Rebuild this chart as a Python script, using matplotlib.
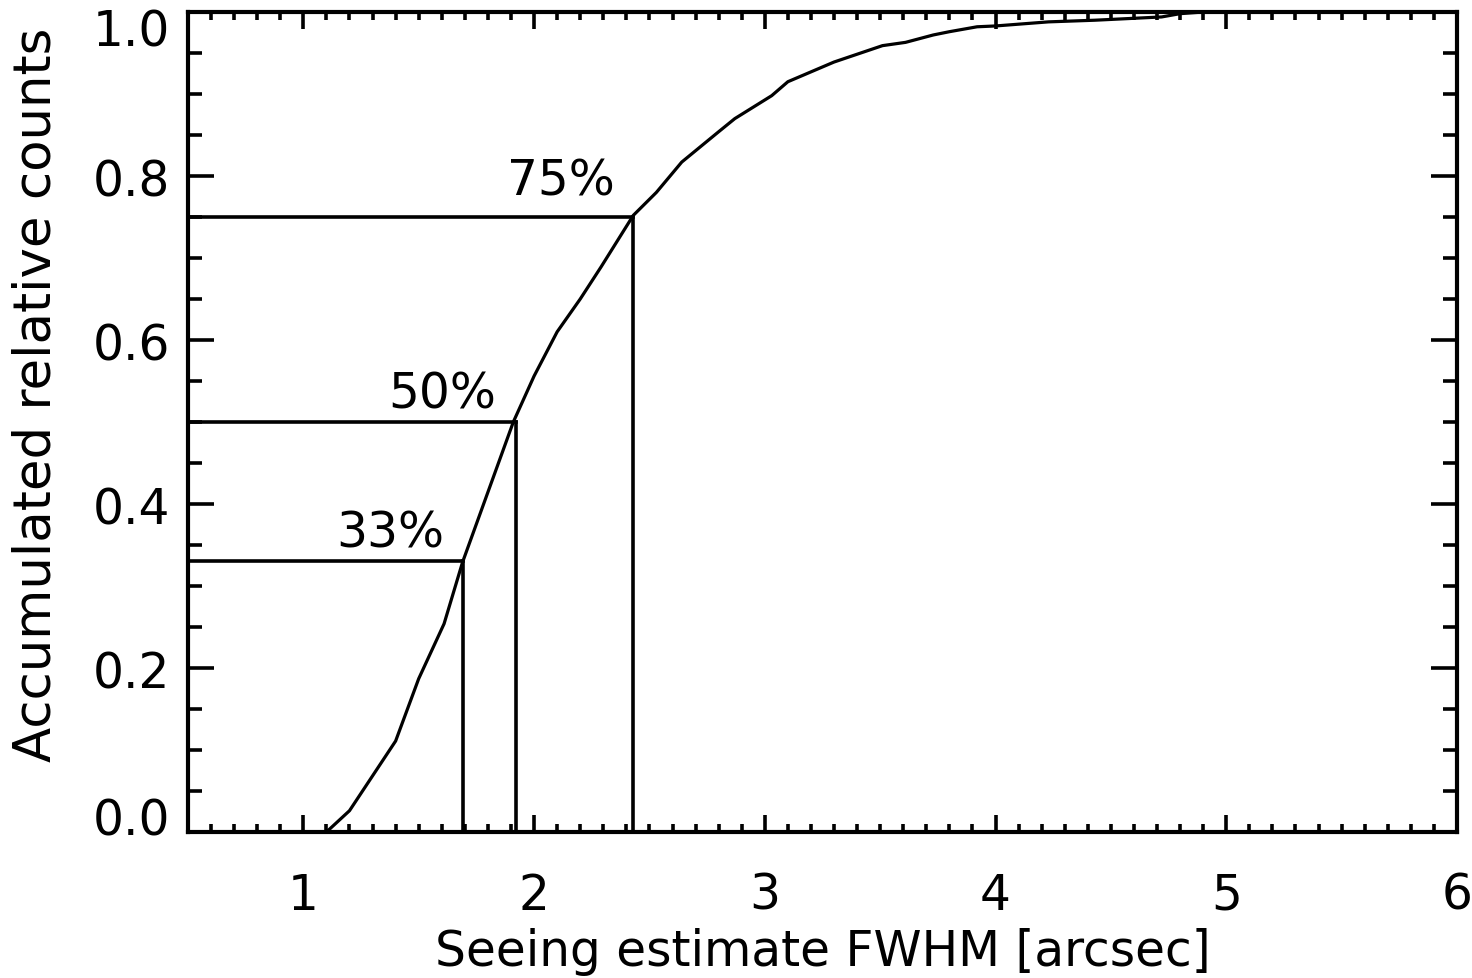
import matplotlib.pyplot as plt
from matplotlib.ticker import MultipleLocator, FormatStrFormatter

# cumulative seeing distribution
fwhm = [1.05, 1.10, 1.20, 1.40, 1.50, 1.61, 1.69, 1.91, 2.00, 2.10, 2.20, 2.29,
        2.43, 2.53, 2.64, 2.80, 2.87, 3.03, 3.10, 3.30, 3.51, 3.61, 3.73, 3.80,
        3.92, 4.00, 4.23, 4.43, 4.72, 4.80, 4.90, 5.00]
acc = [0.0, 0.0, 0.026, 0.111, 0.187, 0.254, 0.329, 0.50, 0.556, 0.61, 0.65, 0.689,
       0.752, 0.78, 0.817, 0.854, 0.87, 0.898, 0.915, 0.939, 0.959, 0.963, 0.972, 0.976,
       0.982, 0.983, 0.988, 0.990, 0.994, 0.998, 1.0, 1.0]

# percentile markers
pct_x = [1.69, 1.92, 2.43]
pct_y = [0.33, 0.50, 0.75]
pct_labels = ["33%", "50%", "75%"]
label_x = [1.61, 1.835, 2.35]
label_y = [0.348, 0.518, 0.778]

yticks = [0.0, 0.2, 0.4, 0.6, 0.8, 1.0]
ytick_labels = ["0.0", "0.2", "0.4", "0.6", "0.8", "1.0"]

plt.rcParams['font.family'] = 'DejaVu Sans'
FS = 35

fig = plt.figure(figsize=(14.72, 9.79), dpi=100)
ax = fig.add_axes([0.1277, 0.1491, 0.8621, 0.8376])

ax.plot(fwhm, acc, color='black', lw=2.3)

xmin = 0.5
for px, py, txt, lx, ly in zip(pct_x, pct_y, pct_labels, label_x, label_y):
    ax.plot([xmin, px], [py, py], color='black', lw=2.6)
    ax.plot([px, px], [0, py], color='black', lw=2.6)
    ax.text(lx, ly, txt, ha='right', va='baseline', fontsize=FS)

ax.set_xlim(0.5, 6.0)
ax.set_ylim(0.0, 1.0)

ax.xaxis.set_major_locator(MultipleLocator(1))
ax.xaxis.set_minor_locator(MultipleLocator(0.1))
ax.set_yticks(yticks)
ax.yaxis.set_minor_locator(MultipleLocator(0.05))
ax.xaxis.set_major_formatter(FormatStrFormatter('%d'))

ax.tick_params(axis='both', which='both', direction='in', top=True, right=True,
               width=2.6, labelsize=FS)
ax.tick_params(axis='x', which='major', length=12, pad=28)
ax.tick_params(axis='x', which='minor', length=6)
ax.tick_params(axis='y', which='major', length=19, labelleft=False)
ax.tick_params(axis='y', which='minor', length=10)

# y tick labels drawn by hand so the end ones stay inside the axis span
for v, lab in zip(yticks, ytick_labels):
    va = 'center_baseline'
    dy = 0
    if v == yticks[0]:
        va = 'baseline'
        dy = -2
    elif v == yticks[-1]:
        va = 'baseline'
        dy = -24
    ax.annotate(lab, xy=(0, v), xycoords=('axes fraction', 'data'),
                xytext=(-13, dy), textcoords='offset points',
                ha='right', va=va, fontsize=FS, annotation_clip=False)

for s in ax.spines.values():
    s.set_linewidth(3.0)

ax.set_xlabel("Seeing estimate FWHM [arcsec]", fontsize=FS, labelpad=6)
ax.set_ylabel("Accumulated relative counts", fontsize=37)
ax.yaxis.set_label_coords(-0.100, 0.534)

fig.savefig("out.png", dpi=100)
